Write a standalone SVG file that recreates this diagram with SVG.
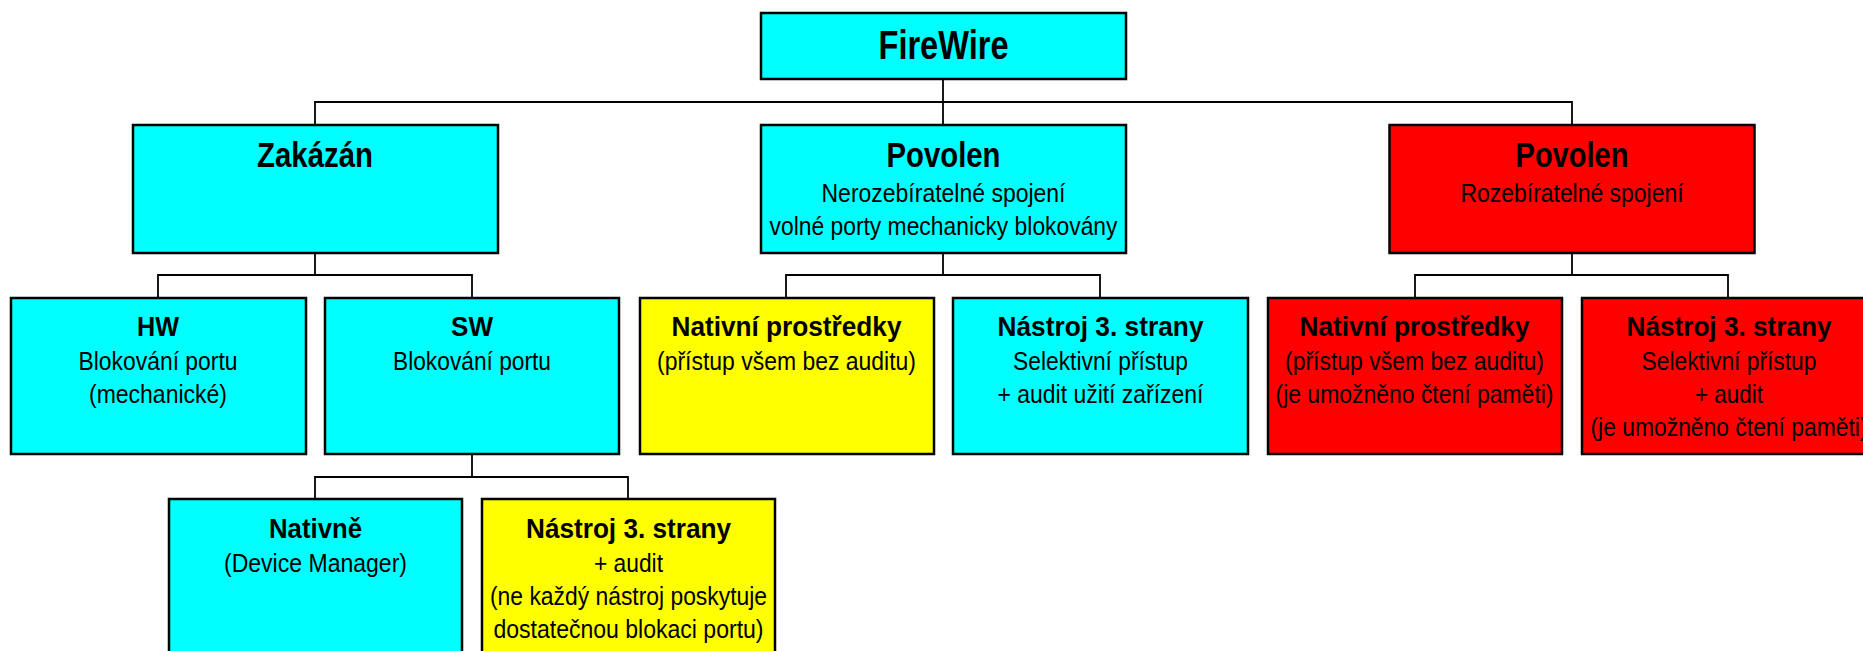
<svg xmlns="http://www.w3.org/2000/svg" width="1863" height="651" viewBox="0 0 1863 651">
<style>
.box{stroke:#000;stroke-width:2.5}
.c{fill:#00FFFF}.y{fill:#FFFF00}.r{fill:#FF0000}
text{font-family:"Liberation Sans Narrow","Liberation Sans",Arial,sans-serif;fill:#000;text-anchor:middle}
.t0{font-size:40px;font-weight:bold}
.t1{font-size:35px;font-weight:bold}
.t2{font-size:28px;font-weight:bold}
.s{font-size:25px}
.conn{fill:none;stroke:#000;stroke-width:1.8}
</style>
<rect width="1863" height="651" fill="#fff"/>
<g id="connectors" class="conn">
<path d="M943,79V102M315,125V102H1572V125M943,102V125"/>
<path d="M315,253V275M158,298V275H472V298"/>
<path d="M943,253V275M786,298V275H1100V298"/>
<path d="M1572,253V275M1415,298V275H1728V298"/>
<path d="M472,454V477M315,499V477H628V499"/>
</g>
<g id="firewire">
<rect class="box c" x="761" y="13" width="365" height="66"/>
<text class="t0" x="943.5" y="59" textLength="130" lengthAdjust="spacingAndGlyphs">FireWire</text>
</g>
<g id="zakazan">
<rect class="box c" x="133" y="125" width="365" height="128"/>
<text class="t1" x="315" y="167" textLength="116" lengthAdjust="spacingAndGlyphs">Zakázán</text>
</g>
<g id="povolen1">
<rect class="box c" x="761" y="125" width="365" height="128"/>
<text class="t1" x="943.5" y="167" textLength="114" lengthAdjust="spacingAndGlyphs">Povolen</text>
<text class="s" x="943.5" y="202" textLength="244" lengthAdjust="spacingAndGlyphs">Nerozebíratelné spojení</text>
<text class="s" x="943.5" y="235" textLength="348" lengthAdjust="spacingAndGlyphs">volné porty mechanicky blokovány</text>
</g>
<g id="povolen2">
<rect class="box r" x="1389.5" y="125" width="365" height="128"/>
<text class="t1" x="1572" y="167" textLength="113" lengthAdjust="spacingAndGlyphs">Povolen</text>
<text class="s" x="1572" y="202" textLength="223" lengthAdjust="spacingAndGlyphs">Rozebíratelné spojení</text>
</g>
<g id="hw">
<rect class="box c" x="11" y="298" width="295" height="156"/>
<text class="t2" x="158" y="336" textLength="42" lengthAdjust="spacingAndGlyphs">HW</text>
<text class="s" x="158" y="370" textLength="159" lengthAdjust="spacingAndGlyphs">Blokování portu</text>
<text class="s" x="158" y="403" textLength="138" lengthAdjust="spacingAndGlyphs">(mechanické)</text>
</g>
<g id="sw">
<rect class="box c" x="325" y="298" width="294" height="156"/>
<text class="t2" x="472" y="336" textLength="42" lengthAdjust="spacingAndGlyphs">SW</text>
<text class="s" x="472" y="370" textLength="158" lengthAdjust="spacingAndGlyphs">Blokování portu</text>
</g>
<g id="nativni1">
<rect class="box y" x="640" y="298" width="294" height="156"/>
<text class="t2" x="786.5" y="336" textLength="230" lengthAdjust="spacingAndGlyphs">Nativní prostředky</text>
<text class="s" x="786.5" y="370" textLength="259" lengthAdjust="spacingAndGlyphs">(přístup všem bez auditu)</text>
</g>
<g id="nastroj1">
<rect class="box c" x="953" y="298" width="295" height="156"/>
<text class="t2" x="1100.5" y="336" textLength="206" lengthAdjust="spacingAndGlyphs">Nástroj 3. strany</text>
<text class="s" x="1100.5" y="370" textLength="175" lengthAdjust="spacingAndGlyphs">Selektivní přístup</text>
<text class="s" x="1100.5" y="403" textLength="206" lengthAdjust="spacingAndGlyphs">+ audit užití zařízení</text>
</g>
<g id="nativni2">
<rect class="box r" x="1268" y="298" width="294" height="156"/>
<text class="t2" x="1414.5" y="336" textLength="230" lengthAdjust="spacingAndGlyphs">Nativní prostředky</text>
<text class="s" x="1414.5" y="370" textLength="259" lengthAdjust="spacingAndGlyphs">(přístup všem bez auditu)</text>
<text class="s" x="1414.5" y="403" textLength="278" lengthAdjust="spacingAndGlyphs">(je umožněno čtení paměti)</text>
</g>
<g id="nastroj2">
<rect class="box r" x="1582" y="298" width="294" height="156"/>
<text class="t2" x="1729" y="336" textLength="205" lengthAdjust="spacingAndGlyphs">Nástroj 3. strany</text>
<text class="s" x="1729" y="370" textLength="175" lengthAdjust="spacingAndGlyphs">Selektivní přístup</text>
<text class="s" x="1729" y="403" textLength="68" lengthAdjust="spacingAndGlyphs">+ audit</text>
<text class="s" x="1729" y="436" textLength="277" lengthAdjust="spacingAndGlyphs">(je umožněno čtení paměti)</text>
</g>
<g id="nativne">
<rect class="box c" x="169" y="499" width="293" height="200"/>
<text class="t2" x="315.5" y="538" textLength="93" lengthAdjust="spacingAndGlyphs">Nativně</text>
<text class="s" x="315.5" y="572" textLength="183" lengthAdjust="spacingAndGlyphs">(Device Manager)</text>
</g>
<g id="nastroj3">
<rect class="box y" x="482" y="499" width="293" height="200"/>
<text class="t2" x="628.5" y="538" textLength="205" lengthAdjust="spacingAndGlyphs">Nástroj 3. strany</text>
<text class="s" x="628.5" y="572" textLength="69" lengthAdjust="spacingAndGlyphs">+ audit</text>
<text class="s" x="628.5" y="605" textLength="277" lengthAdjust="spacingAndGlyphs">(ne každý nástroj poskytuje</text>
<text class="s" x="628.5" y="638" textLength="270" lengthAdjust="spacingAndGlyphs">dostatečnou blokaci portu)</text>
</g>
</svg>
